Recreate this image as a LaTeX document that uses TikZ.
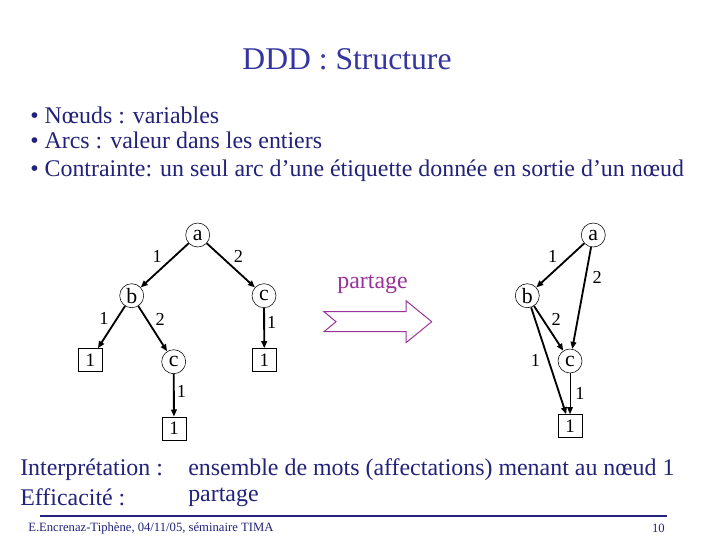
\documentclass[tikz,border=0pt]{standalone}
\usepackage{fontspec}
\setmainfont{Liberation Serif}
\usepackage{tikz}
\usetikzlibrary{arrows.meta,positioning}
\definecolor{titleblue}{HTML}{3535A0}
\definecolor{textblue}{HTML}{22227A}
\definecolor{partmag}{HTML}{993399}

\begin{document}
\begin{tikzpicture}[
  x=0.025cm, y=-0.025cm,
  var/.style={circle, draw, thin, minimum size=0.6cm, inner sep=0pt,
    font=\fontsize{15.5}{15.5}\selectfont},
  term/.style={rectangle, draw, thin, minimum width=0.6cm, minimum height=0.575cm,
    inner sep=0pt, font=\fontsize{13.5}{13.5}\selectfont},
  arr/.style={-{Triangle[length=5pt,width=4pt]}, line width=1.3pt},
  thinarr/.style={-{Triangle[length=5pt,width=4pt]}, line width=0.7pt},
  lbl/.style={font=\fontsize{13}{13}\selectfont, inner sep=1.5pt},
  txt/.style={anchor=west, text=textblue, inner sep=0pt,
    font=\fontsize{17}{20}\selectfont},
]
  \useasboundingbox[fill=white] (0,0) rectangle (720,540);

  % title and bullets
  \node[text=titleblue, font=\fontsize{22.5}{26}\selectfont] (title) at (347,59) {DDD : Structure};
  \node[txt] (b1) at (30,115) {\textbullet\ N\oe uds : variables};
  \node[txt] (b2) at (30,140) {\textbullet\ Arcs : valeur dans les entiers};
  \node[txt] (b3) at (30,171) {\textbullet\ Contrainte: un seul arc d’une étiquette donnée en sortie d’un n\oe ud};

  % arbre
  \node[var] (ta) at (197.7,235) {a};
  \node[var] (tb) at (131.7,295.7) {b};
  \node[var] (tc1) at (264,295.7) {c};
  \node[var] (tc2) at (173.7,361.7) {c};
  \node[term] (t1a) at (90.3,360) {1};
  \node[term] (t1b) at (264.3,360) {1};
  \node[term] (t1c) at (174,428.3) {1};

  \draw[arr] (ta) -- node[lbl, above left] {1} (tb);
  \draw[arr] (ta) -- node[lbl, above right] {2} (tc1);
  \draw[arr] (tb) -- node[lbl, above left] {1} (t1a);
  \draw[arr] (tb) -- node[lbl, above right] {2} (tc2);
  \draw[arr] (tc1) -- node[lbl, right, pos=0.35] {1} (t1b);
  \draw[arr] (tc2) -- node[lbl, right, pos=0.4] {1} (t1c);

  % partage
  \draw[partmag, line width=0.7pt] (324,311.7) -- (406,311.7) -- (406,300.7) -- (431.7,321.7)
    -- (406,342.7) -- (406,331.7) -- (324,331.7) -- (336,321.7) -- cycle;
  \node[text=partmag, font=\fontsize{17}{20}\selectfont] (part) at (372.5,284) {partage};

  % DDD
  \node[var] (da) at (593.3,235) {a};
  \node[var] (db) at (527.3,295.7) {b};
  \node[var] (dc) at (570,361) {c};
  \node[term] (d1) at (570,426) {1};

  \draw[arr] (da) -- node[lbl, above left] {1} (db);
  \draw[arr] (da) -- node[lbl, right=3pt, pos=0.3] {2} (dc);
  \draw[arr] (db) -- node[lbl, above right] {2} (dc);
  \draw[arr] (db) -- node[lbl, left=4pt, pos=0.5] {1} (d1);
  \draw[thinarr] (dc) -- node[lbl, right=2pt] {1} (d1);

  % bas de page
  \node[txt] (interp) at (20,470) {Interprétation :};
  \node[txt] (interpv) at (188,470) {ensemble de mots (affectations) menant au n\oe ud 1};
  \node[txt] (effic) at (20,497) {Efficacité :};
  \node[txt] (efficv) at (188,497) {partage};
  \draw[textblue, line width=0.8pt] (40,516) -- (667,516);
  \node[txt, font=\fontsize{9}{10}\selectfont] (foot) at (28,528) {E.Encrenaz-Tiphène, 04/11/05, séminaire TIMA};
  \node[txt, anchor=east, font=\fontsize{9}{10}\selectfont] (num) at (665,528) {10};
\end{tikzpicture}
\end{document}
